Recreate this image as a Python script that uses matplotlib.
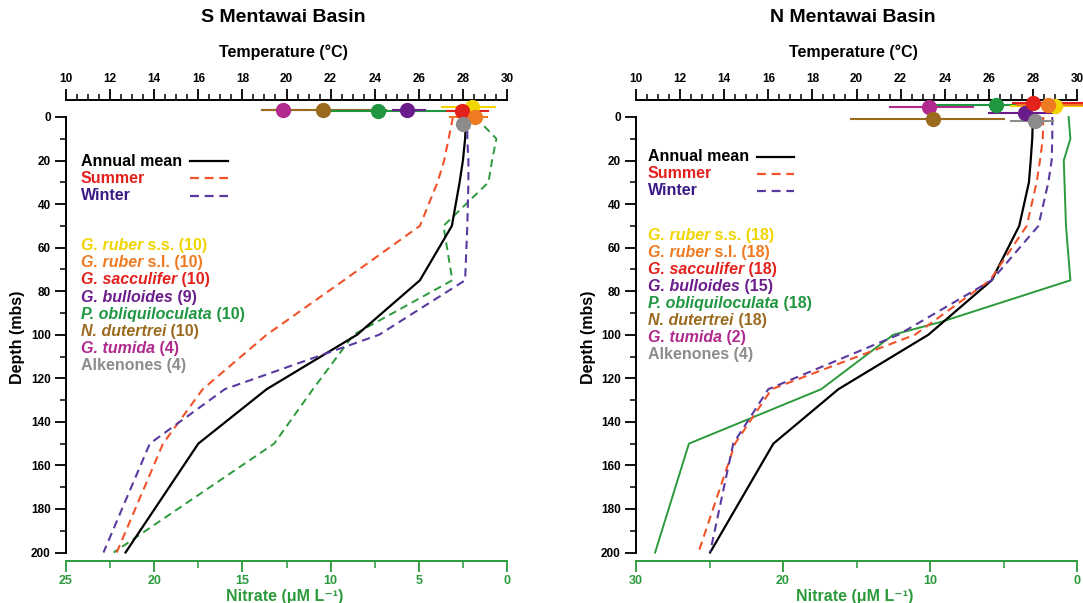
import matplotlib.pyplot as plt
from matplotlib.ticker import MultipleLocator

plt.rcParams["font.family"] = ["Liberation Sans", "DejaVu Sans"]
plt.rcParams["font.weight"] = "bold"

# ========= 数据 =========
depth_std = [0, 10, 20, 30, 50, 75, 100, 125, 150, 200]

# S Mentawai Basin temperature profiles (°C)
s_annual = [28.15, 28.1, 28.0, 27.85, 27.5, 26.05, 23.2, 19.1, 16.0, 12.7]
s_summer = [27.55, 27.35, 27.15, 26.85, 26.05, 22.6, 19.1, 16.2, 14.4, 12.3]
s_winter = [28.2, 28.2, 28.25, 28.25, 28.2, 28.1, 24.2, 17.2, 13.8, 11.7]
# S nitrate (uM/L)
s_nit_depth = [0, 10, 20, 30, 50, 75, 100, 125, 150, 200]
s_nitrate = [1.8, 0.6, 0.85, 1.05, 3.6, 3.1, 8.7, 11.0, 13.2, 22.3]

# N Mentawai Basin
n_annual = [28.0, 27.97, 27.9, 27.82, 27.38, 26.13, 23.26, 19.18, 16.23, 13.36]
n_summer = [28.47, 28.45, 28.32, 28.17, 27.72, 26.05, 22.65, 16.15, 14.49, 12.83]
n_winter = [28.88, 28.88, 28.85, 28.7, 28.25, 26.13, 21.9, 16.0, 14.41, 13.36]
n_nit_depth = [0, 10, 20, 30, 50, 75, 94, 100, 125, 150, 200]
n_nitrate = [0.57, 0.45, 0.9, 0.85, 0.75, 0.45, 9.2, 12.5, 17.4, 26.4, 28.7]

# proxies: ruber s.s., ruber s.l., sacculifer, bulloides, obliquiloculata, dutertrei, tumida, alkenones
proxy_italic = ["G. ruber", "G. ruber", "G. sacculifer", "G. bulloides",
                "P. obliquiloculata", "N. dutertrei", "G. tumida", ""]
proxy_plain = [" s.s.", " s.l.", "", "", "", "", "", "Alkenones"]
proxy_colors = ["#f2d400", "#ee7a22", "#e3221e", "#6b1c8c",
                "#1f9640", "#9a6a1e", "#b02a8e", "#8c8c8c"]
s_counts = [10, 10, 10, 9, 10, 10, 4, 4]
n_counts = [18, 18, 18, 15, 18, 18, 2, 4]

s_proxy_temp = [28.4, 28.55, 27.94, 25.45, 24.17, 21.64, 19.85, 28.02]
s_proxy_lo = [27.04, 27.4, 27.27, 24.84, 21.6, 18.9, 18.92, 28.02]
s_proxy_hi = [29.46, 29.1, 29.15, 26.28, 27.7, 24.5, 20.99, 28.02]
s_proxy_depth = [-4.7, -0.1, -2.9, -3.2, -2.9, -3.2, -3.2, 3.3]

n_proxy_temp = [29.0, 28.7, 28.02, 27.64, 26.33, 23.45, 23.3, 28.1]
n_proxy_lo = [27.0, 27.3, 27.1, 26.0, 23.3, 19.75, 21.5, 27.0]
n_proxy_hi = [30.6, 30.6, 30.3, 29.1, 29.7, 26.7, 25.3, 28.9]
n_proxy_depth = [-5.2, -5.5, -6.3, -1.7, -5.5, 1.0, -4.7, 1.7]

# ========= 样式 =========
W, H = 1083, 603
GREEN = "#2b9a3a"
SUMMER_LINE = "#f0522a"
WINTER_LINE = "#5a3aa0"
SUMMER_TXT = "#e3221e"
WINTER_TXT = "#3b1a86"
DASH = (0, (4, 2.6))


def fx(x):
    return x / W


def fy(y):
    return 1 - y / H


fig = plt.figure(figsize=(W / 100, H / 100), dpi=100)


def draw_panel(left_px, title, annual, summer, winter, nit_depth, nit, nit_max,
               nit_step, nit_ls, temps, lows, highs, pdepth, counts,
               leg_x, leg_y, sp_y0, sp_dy, line_x):
    ax = fig.add_axes([fx(left_px), fy(561), 441 / W, 461 / H])
    ax2 = ax.twiny()
    ax.set_zorder(ax2.get_zorder() + 1)
    ax.patch.set_visible(False)

    ax.set_xlim(10, 30)
    ax.set_ylim(203.9, -7.8)
    ax2.set_xlim(nit_max, 0)

    # temperature axis on top
    ax.xaxis.tick_top()
    ax.xaxis.set_major_locator(MultipleLocator(2))
    ax.xaxis.set_minor_locator(MultipleLocator(0.5))
    ax.tick_params(axis="x", which="major", direction="out", length=8,
                   width=1.3, labelsize=8.5, pad=3)
    ax.tick_params(axis="x", which="minor", direction="out", length=4, width=1.1)
    # depth
    ax.yaxis.set_major_locator(MultipleLocator(20))
    ax.yaxis.set_minor_locator(MultipleLocator(10))
    ax.tick_params(axis="y", which="major", direction="out", length=8,
                   width=1.3, labelsize=8.5, pad=3)
    ax.tick_params(axis="y", which="minor", direction="out", length=4, width=1.1)
    ax.spines["left"].set_bounds(0, 200)
    ax.spines["right"].set_visible(False)
    ax.spines["bottom"].set_visible(False)
    for s in ("top", "left"):
        ax.spines[s].set_linewidth(1.4)

    # nitrate axis at bottom
    ax2.xaxis.tick_bottom()
    ax2.xaxis.set_major_locator(MultipleLocator(nit_step))
    ax2.xaxis.set_minor_locator(MultipleLocator(nit_step / 2))
    ax2.tick_params(axis="x", which="major", direction="out", length=8,
                    width=1.3, labelsize=9, pad=2, color=GREEN,
                    labelcolor=GREEN)
    ax2.tick_params(axis="x", which="minor", direction="out", length=5,
                    width=1.1, color=GREEN)
    for s in ("top", "left", "right"):
        ax2.spines[s].set_visible(False)
    ax2.spines["bottom"].set_color(GREEN)
    ax2.spines["bottom"].set_linewidth(1.4)

    # profiles
    ax2.plot(nit, nit_depth, color=GREEN, lw=1.4,
             ls=DASH if nit_ls == "dashed" else "-")
    ax.plot(annual, depth_std, color="black", lw=1.6)
    ax.plot(summer, depth_std, color=SUMMER_LINE, lw=1.5, ls=DASH)
    ax.plot(winter, depth_std, color=WINTER_LINE, lw=1.5, ls=DASH)

    # proxy temperatures with ranges
    order = [6, 5, 4, 3, 0, 2, 1, 7]
    for i in order:
        ax.plot([lows[i], highs[i]], [pdepth[i], pdepth[i]],
                color=proxy_colors[i], lw=1.5, clip_on=False, zorder=3)
    for i in order:
        ax.plot(temps[i], pdepth[i], "o", ms=11, color=proxy_colors[i],
                mec="none", clip_on=False, zorder=4)

    # titles / labels
    cx = left_px + 217
    fig.text(fx(cx), fy(18), title, ha="center", va="center", fontsize=14)
    fig.text(fx(cx), fy(52), "Temperature (°C)", ha="center", va="center",
             fontsize=11.5)
    fig.text(fx(cx + 2), fy(597), "Nitrate (μM L⁻¹)", ha="center",
             va="center", fontsize=11.5, color=GREEN)
    fig.text(fx(left_px - 48), fy(337), "Depth (mbs)", ha="center",
             va="center", rotation=90, fontsize=11.5)

    # legend for profiles
    leg = [("Annual mean", "black", "black", "-"),
           ("Summer", SUMMER_TXT, SUMMER_LINE, DASH),
           ("Winter", WINTER_TXT, WINTER_LINE, DASH)]
    for k, (lab, tc, lc, ls) in enumerate(leg):
        y = leg_y + k * 17
        fig.text(fx(leg_x), fy(y), lab, color=tc, fontsize=11.5, va="baseline")
        fig.add_artist(plt.Line2D([fx(line_x[0]), fx(line_x[1])],
                                  [fy(y - 4.5), fy(y - 4.5)], color=lc, lw=1.6,
                                  ls=ls, transform=fig.transFigure))

    # legend for proxies (italic genus + plain suffix)
    for i in range(len(proxy_italic)):
        y = sp_y0 + i * sp_dy
        c = proxy_colors[i]
        if proxy_italic[i]:
            t = fig.text(fx(leg_x), fy(y), proxy_italic[i], color=c,
                         fontsize=11.5, style="italic", va="baseline")
            ax.annotate(proxy_plain[i] + f" ({counts[i]})", xy=(1, 0),
                        xycoords=t, va="bottom", ha="left", color=c,
                        fontsize=11.5, annotation_clip=False)
        else:
            fig.text(fx(leg_x), fy(y), f"{proxy_plain[i]} ({counts[i]})",
                     color=c, fontsize=11.5, va="baseline")
    return ax


draw_panel(66, "S Mentawai Basin", s_annual, s_summer, s_winter, s_nit_depth,
           s_nitrate, 25, 5, "dashed", s_proxy_temp, s_proxy_lo, s_proxy_hi,
           s_proxy_depth, s_counts, 81, 166, 250, 17.2, (190, 228))
draw_panel(636, "N Mentawai Basin", n_annual, n_summer, n_winter, n_nit_depth,
           n_nitrate, 30, 10, "solid", n_proxy_temp, n_proxy_lo, n_proxy_hi,
           n_proxy_depth, n_counts, 648, 161, 240, 17.0, (757, 794))

fig.savefig("out.png", dpi=100)
